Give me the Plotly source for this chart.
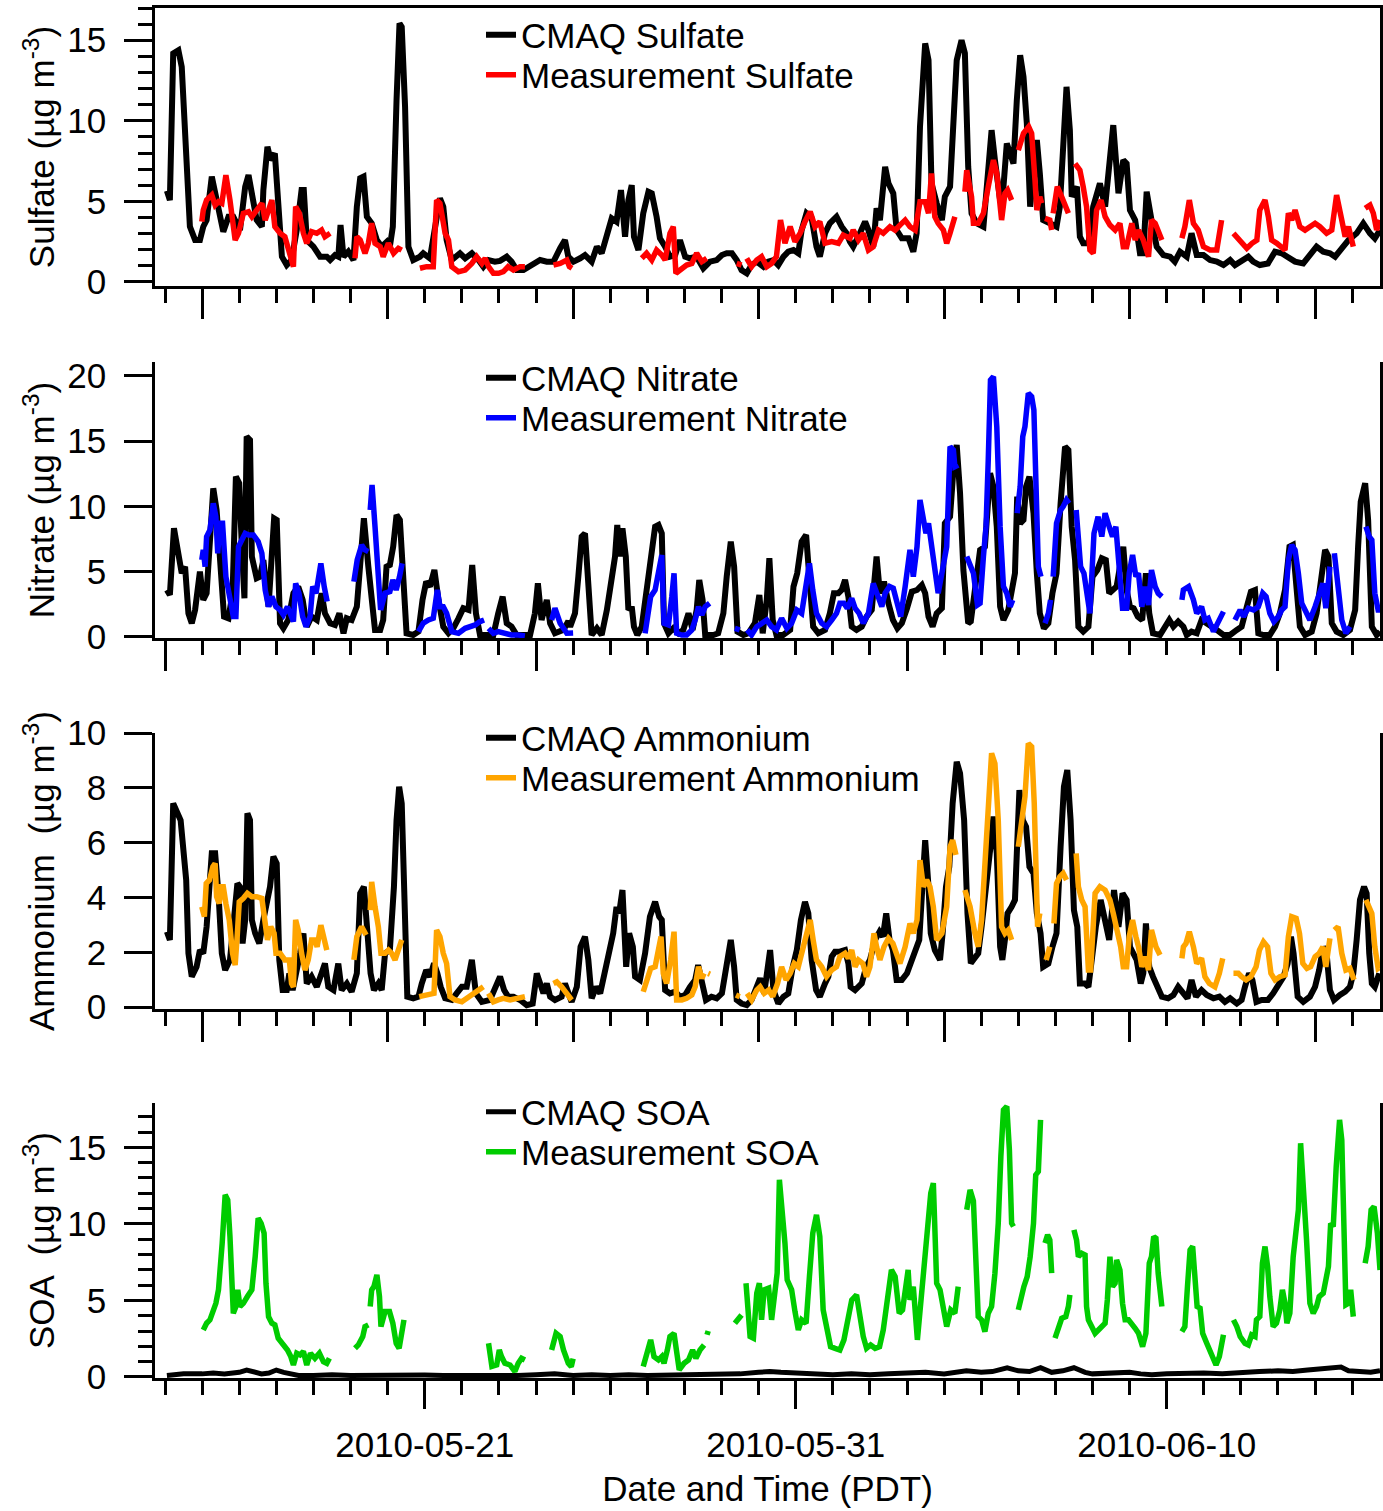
import plotly.graph_objects as go
import pandas as pd

# ---------------- data (time = days after 2010-05-14 00:00 PDT; None = gap) ----------------
SULF_CMAQ = [(0.05,5.66),(0.13,5.08),(0.22,14.18),(0.36,14.38),(0.45,13.35),(0.58,8.18),(0.67,3.43),(0.81,2.6),(0.94,2.6),(1.03,3.43),(1.12,3.84),(1.26,6.53),(1.39,5.08),(1.57,3.12),(1.71,4.05),(1.84,4.05),(2.02,3.22),(2.16,5.91),(2.25,6.63),(2.38,4.67),(2.47,3.84),(2.61,3.43),(2.65,5.7),(2.76,8.39),(2.85,7.56),(2.96,7.98),(3.05,4.67),(3.15,1.57),(3.28,1.05),(3.41,1.36),(3.55,3.22),(3.68,5.7),(3.74,5.7),(3.82,2.6),(4.0,2.19),(4.18,1.57),(4.36,1.57),(4.45,1.36),(4.58,1.67),(4.67,1.57),(4.73,3.53),(4.81,1.57),(4.94,1.88),(5.08,1.36),(5.17,4.67),(5.26,6.43),(5.35,6.53),(5.44,4.05),(5.57,3.64),(5.71,2.6),(5.84,2.19),(5.98,2.5),(6.06,2.19),(6.14,3.43),(6.24,11.28),(6.32,16.04),(6.38,15.83),(6.47,10.87),(6.56,2.19),(6.69,1.36),(6.87,1.57),(6.96,1.78),(7.14,1.47),(7.28,3.22),(7.41,5.19),(7.5,4.67),(7.59,2.6),(7.73,1.36),(7.86,1.57),(7.95,1.78),(8.09,1.47),(8.27,1.78),(8.45,1.36),(8.58,0.95),(8.72,1.36),(8.89,1.26),(9.03,1.31),(9.21,1.57),(9.34,1.26),(9.48,0.74),(9.66,0.74),(9.84,0.95),(10.02,1.26),(10.11,1.36),(10.29,1.26),(10.47,1.26),(10.65,2.09),(10.78,2.6),(10.87,1.57),(11.01,1.26),(11.19,1.47),(11.32,1.67),(11.5,1.26),(11.64,2.19),(11.77,1.78),(11.91,3.02),(12.04,3.95),(12.17,3.74),(12.29,5.7),(12.4,2.81),(12.49,5.08),(12.58,6.01),(12.64,2.81),(12.76,1.98),(12.89,4.26),(13.03,5.6),(13.12,5.5),(13.25,4.05),(13.34,2.71),(13.48,2.19),(13.61,1.57),(13.75,1.67),(13.88,2.6),(14.02,1.57),(14.15,1.47),(14.33,1.57),(14.51,0.85),(14.69,1.26),(14.87,1.36),(15.01,1.67),(15.14,1.78),(15.28,1.78),(15.41,1.36),(15.54,0.74),(15.68,0.54),(15.81,1.05),(15.95,1.26),(16.13,0.95),(16.26,1.26),(16.4,1.36),(16.53,1.05),(16.67,1.57),(16.8,1.88),(16.94,1.98),(17.07,1.78),(17.16,3.22),(17.29,4.26),(17.43,3.95),(17.56,2.19),(17.65,1.57),(17.79,3.02),(17.92,3.64),(18.1,4.05),(18.24,3.43),(18.37,3.02),(18.46,2.5),(18.55,2.19),(18.73,3.02),(18.87,3.74),(18.96,3.22),(19.09,2.19),(19.18,4.57),(19.27,3.84),(19.41,7.15),(19.5,6.12),(19.63,5.5),(19.72,3.22),(19.86,2.71),(20.04,2.71),(20.17,1.88),(20.26,3.02),(20.35,9.63),(20.49,14.8),(20.58,13.77),(20.66,6.12),(20.8,4.88),(20.94,3.84),(21.02,5.29),(21.16,5.91),(21.34,13.76),(21.47,15.0),(21.56,14.2),(21.65,7.15),(21.74,4.26),(21.88,3.64),(22.06,3.43),(22.15,5.91),(22.28,9.42),(22.37,7.56),(22.51,5.08),(22.6,5.91),(22.69,8.6),(22.78,7.98),(22.87,7.35),(22.96,11.28),(23.05,14.07),(23.14,12.73),(23.23,9.84),(23.32,4.67),(23.41,7.15),(23.5,8.81),(23.58,6.74),(23.67,3.84),(23.85,3.64),(24.03,3.43),(24.12,4.67),(24.21,9.22),(24.3,12.11),(24.39,9.42),(24.44,5.29),(24.58,5.91),(24.66,2.81),(24.75,2.4),(24.89,2.4),(25.02,4.67),(25.2,6.12),(25.34,4.67),(25.43,7.15),(25.56,9.73),(25.7,5.5),(25.83,7.56),(25.92,7.35),(26.01,4.46),(26.15,3.84),(26.28,1.78),(26.37,1.78),(26.46,5.6),(26.59,3.84),(26.73,2.19),(26.91,1.67),(27.09,1.57),(27.22,1.26),(27.36,1.88),(27.54,1.57),(27.67,3.02),(27.81,1.67),(27.99,1.67),(28.17,1.36),(28.35,1.26),(28.53,1.05),(28.71,1.36),(28.84,1.05),(29.02,1.36),(29.2,1.57),(29.33,1.26),(29.51,1.05),(29.73,1.15),(29.92,1.88),(30.1,1.78),(30.28,1.57),(30.46,1.26),(30.68,1.15),(30.86,1.67),(31.04,2.19),(31.22,1.88),(31.4,1.78),(31.54,1.57),(31.72,2.09),(31.9,2.6),(32.12,3.02),(32.3,3.64),(32.48,3.02),(32.61,2.71),(32.75,3.22)]

SULF_MEAS = [(0.99,3.74),(1.03,4.46),(1.12,5.08),(1.26,5.39),(1.35,4.77),(1.44,4.98),(1.53,4.88),(1.64,6.63),(1.75,5.08),(1.89,2.6),(1.98,3.02),(2.11,4.26),(2.25,4.36),(2.34,4.05),(2.47,4.46),(2.61,4.88),(2.7,3.84),(2.79,4.46),(2.88,5.08),(2.96,3.43),(3.1,3.02),(3.23,2.81),(3.37,1.78),(3.46,0.95),(3.52,4.67),(3.62,4.26),(3.73,3.02),(3.82,2.4),(3.95,3.12),(4.09,3.02),(4.22,3.22),(4.31,2.81),(4.45,3.02),(4.8,None),
(5.12,1.47),(5.17,2.81),(5.26,2.6),(5.39,1.78),(5.48,2.4),(5.57,3.64),(5.66,2.4),(5.8,2.19),(5.88,1.57),(6.02,2.4),(6.16,1.78),(6.29,2.09),(6.38,1.98),(6.6,None),
(6.87,0.85),(7.05,0.95),(7.23,0.95),(7.32,5.08),(7.41,4.88),(7.55,3.02),(7.64,2.6),(7.73,0.95),(7.91,0.64),(8.09,0.74),(8.27,1.15),(8.4,1.57),(8.54,1.15),(8.63,1.47),(8.72,0.95),(8.85,0.54),(8.99,0.54),(9.12,0.64),(9.25,0.95),(9.39,0.74),(9.57,0.95),(9.7,0.95),(10.0,None),
(10.47,1.05),(10.65,1.15),(10.83,1.36),(10.9,0.95),(10.97,0.85),(11.5,None),
(12.85,1.47),(12.98,1.78),(13.12,1.36),(13.25,1.98),(13.39,1.67),(13.48,1.36),(13.61,3.02),(13.7,3.43),(13.77,0.54),(13.93,0.85),(14.06,1.05),(14.2,1.15),(14.33,1.78),(14.47,1.26),(14.6,1.47),(15.0,None),
(15.41,1.15),(15.54,1.05),(15.6,None),
(15.68,1.47),(15.81,0.95),(15.95,1.36),(16.08,1.57),(16.22,0.95),(16.35,1.15),(16.48,1.57),(16.59,3.84),(16.71,2.4),(16.85,3.43),(16.98,2.5),(17.12,3.02),(17.25,3.74),(17.39,4.36),(17.52,3.43),(17.65,3.74),(17.79,2.4),(17.97,2.5),(18.15,2.4),(18.28,2.91),(18.46,2.71),(18.55,3.22),(18.69,2.6),(18.82,3.02),(18.96,1.98),(19.09,2.19),(19.23,3.22),(19.36,3.02),(19.54,3.43),(19.68,3.22),(19.81,3.53),(19.95,3.84),(20.08,3.43),(20.22,3.22),(20.35,4.98),(20.49,4.98),(20.58,4.26),(20.66,6.74),(20.75,4.05),(20.84,3.64),(20.98,3.22),(21.07,2.4),(21.16,3.02),(21.29,4.05),(21.4,None),
(21.56,5.6),(21.61,6.94),(21.74,5.29),(21.79,3.64),(21.92,3.64),(22.06,4.26),(22.19,5.91),(22.33,7.56),(22.42,6.74),(22.55,3.84),(22.64,5.5),(22.71,5.7),(22.82,5.08),(22.9,None),
(23.0,8.18),(23.14,9.22),(23.28,9.63),(23.36,9.22),(23.45,6.32),(23.5,4.46),(23.58,5.29),(23.63,4.88),(23.68,None),
(23.72,3.95),(23.85,3.84),(23.9,3.22),(23.92,None),
(23.94,4.26),(24.05,5.91),(24.17,5.29),(24.3,4.46),(24.35,4.26),(24.45,None),
(24.53,7.35),(24.66,6.94),(24.75,5.91),(24.84,4.67),(24.93,1.98),(25.02,1.78),(25.11,4.46),(25.23,5.08),(25.34,4.05),(25.47,3.53),(25.61,3.22),(25.74,3.64),(25.83,2.19),(25.92,2.19),(26.06,3.64),(26.15,2.6),(26.24,3.22),(26.37,2.6),(26.51,1.57),(26.59,3.84),(26.69,3.64),(26.87,2.6),(27.1,None),
(27.41,2.71),(27.49,3.43),(27.61,5.08),(27.72,3.64),(27.85,3.22),(27.99,2.19),(28.17,1.98),(28.35,1.98),(28.48,3.84),(28.6,None),
(28.8,3.02),(28.98,2.6),(29.16,2.09),(29.3,2.4),(29.43,2.6),(29.51,4.46),(29.65,5.08),(29.74,4.05),(29.83,2.6),(29.97,2.4),(30.1,2.09),(30.19,1.98),(30.28,4.26),(30.37,3.84),(30.46,4.46),(30.59,3.43),(30.73,3.22),(30.86,3.43),(31.0,3.64),(31.13,3.43),(31.31,3.02),(31.45,3.22),(31.58,5.39),(31.72,3.84),(31.81,2.81),(31.9,3.43),(32.03,2.19),(32.2,None),
(32.35,4.57),(32.48,4.77),(32.57,4.26),(32.66,3.22),(32.75,3.84)]

NIT_CMAQ = [(0.05,3.6),(0.13,3.22),(0.24,8.33),(0.36,6.41),(0.45,4.88),(0.54,5.39),(0.63,1.81),(0.72,1.05),(0.81,2.07),(0.94,5.0),(1.03,2.84),(1.12,3.35),(1.21,8.45),(1.3,11.39),(1.39,9.73),(1.48,5.39),(1.59,1.56),(1.71,1.43),(1.82,3.35),(1.91,12.29),(2.0,11.78),(2.07,6.92),(2.14,2.96),(2.2,15.35),(2.29,15.1),(2.34,6.16),(2.47,4.5),(2.56,4.62),(2.65,5.9),(2.79,2.32),(2.88,6.92),(2.94,9.09),(3.01,8.97),(3.1,1.05),(3.19,0.66),(3.32,1.3),(3.46,3.35),(3.59,3.86),(3.71,2.84),(3.82,0.79),(3.95,1.56),(4.09,1.3),(4.22,3.35),(4.31,1.81),(4.45,1.05),(4.58,0.92),(4.7,1.81),(4.81,0.28),(4.9,1.43),(5.03,1.3),(5.17,2.32),(5.28,6.92),(5.36,9.09),(5.48,5.39),(5.57,2.84),(5.66,0.54),(5.8,0.54),(5.88,1.3),(5.97,5.39),(6.06,5.52),(6.15,6.92),(6.24,9.35),(6.33,8.97),(6.41,4.62),(6.51,0.28),(6.69,0.15),(6.83,0.41),(6.94,2.84),(7.04,4.24),(7.14,3.86),(7.26,5.13),(7.37,2.84),(7.5,0.79),(7.64,0.28),(7.77,0.66),(7.91,1.43),(8.04,2.2),(8.18,2.07),(8.28,5.52),(8.38,1.81),(8.49,0.15),(8.67,0.15),(8.85,0.15),(8.98,1.81),(9.1,3.09),(9.21,1.05),(9.34,0.79),(9.48,0.15),(9.66,0.15),(9.84,0.15),(9.97,1.81),(10.05,4.11),(10.15,1.3),(10.29,2.84),(10.38,1.05),(10.51,0.28),(10.74,0.54),(10.87,1.2),(10.92,0.79),(11.05,1.81),(11.14,4.62),(11.23,7.69),(11.32,7.94),(11.41,3.35),(11.5,0.15),(11.64,0.66),(11.77,0.15),(11.91,2.07),(12.04,4.88),(12.13,6.16),(12.19,8.58),(12.26,6.16),(12.33,8.33),(12.42,6.16),(12.49,2.07),(12.58,2.32),(12.64,0.79),(12.73,0.15),(12.85,0.79),(12.98,3.35),(13.12,6.41),(13.21,8.45),(13.3,8.58),(13.39,7.94),(13.45,1.05),(13.57,0.28),(13.7,0.66),(13.84,0.28),(13.97,0.54),(14.11,1.81),(14.22,0.54),(14.33,2.07),(14.4,4.37),(14.49,2.84),(14.56,0.15),(14.78,0.15),(14.91,0.28),(15.05,1.81),(15.14,4.62),(15.25,7.31),(15.34,5.39),(15.43,0.41),(15.59,0.15),(15.72,0.28),(15.9,1.05),(16.02,3.22),(16.11,0.28),(16.22,2.84),(16.29,6.03),(16.38,1.3),(16.48,0.15),(16.66,0.15),(16.85,0.54),(16.94,3.86),(17.04,4.88),(17.16,7.31),(17.28,7.82),(17.37,4.88),(17.47,0.79),(17.61,0.28),(17.79,0.54),(17.92,1.81),(18.03,3.35),(18.15,3.35),(18.24,3.6),(18.33,4.37),(18.42,3.09),(18.51,0.79),(18.64,0.54),(18.78,0.79),(18.91,1.56),(19.05,2.07),(19.18,6.16),(19.27,3.35),(19.38,4.24),(19.5,2.58),(19.62,1.3),(19.74,0.66),(19.86,1.05),(20.0,2.2),(20.13,3.47),(20.27,3.6),(20.4,3.98),(20.49,3.35),(20.58,1.56),(20.69,0.79),(20.8,1.81),(20.94,2.2),(21.02,8.71),(21.16,9.22),(21.25,12.8),(21.34,14.71),(21.43,11.01),(21.52,5.13),(21.65,1.05),(21.72,1.2),(21.83,3.35),(21.97,6.67),(22.1,6.92),(22.24,12.54),(22.33,11.52),(22.42,8.45),(22.51,2.32),(22.6,1.3),(22.73,2.07),(22.82,3.86),(22.91,4.88),(22.97,10.75),(23.05,8.71),(23.14,8.97),(23.21,11.52),(23.3,12.29),(23.41,9.48),(23.5,4.88),(23.58,1.81),(23.69,0.66),(23.81,1.05),(23.92,3.35),(24.03,4.88),(24.14,10.24),(24.26,14.58),(24.35,14.33),(24.44,8.45),(24.53,5.9),(24.62,0.79),(24.75,0.41),(24.89,0.79),(25.0,4.62),(25.13,5.13),(25.25,6.03),(25.36,5.9),(25.45,3.35),(25.56,3.6),(25.65,3.86),(25.74,5.39),(25.83,6.92),(25.92,3.6),(26.01,2.32),(26.11,2.2),(26.22,1.56),(26.34,1.3),(26.44,4.88),(26.53,1.81),(26.63,0.28),(26.82,0.15),(26.95,0.79),(27.07,1.3),(27.18,0.79),(27.31,1.18),(27.45,0.79),(27.54,0.15),(27.67,0.41),(27.81,0.28),(27.94,1.3),(28.08,1.05),(28.21,0.92),(28.35,0.54),(28.53,0.15),(28.71,0.15),(28.89,0.54),(29.02,0.79),(29.16,2.32),(29.27,3.47),(29.38,3.6),(29.47,0.28),(29.6,0.15),(29.78,0.15),(29.92,0.79),(30.05,1.81),(30.19,3.6),(30.31,6.92),(30.4,7.05),(30.5,3.6),(30.59,0.79),(30.73,0.15),(30.91,0.41),(31.04,1.81),(31.15,3.86),(31.27,6.67),(31.36,6.16),(31.45,1.05),(31.58,0.41),(31.76,0.15),(31.94,0.54),(32.08,2.07),(32.16,6.92),(32.23,10.37),(32.35,11.78),(32.43,8.97),(32.53,0.79),(32.66,0.15),(32.75,0.41)]

NIT_MEAS = [(0.99,5.9),(1.03,6.67),(1.08,5.39),(1.12,7.69),(1.21,8.2),(1.3,10.24),(1.37,9.22),(1.42,6.41),(1.48,8.71),(1.55,8.71),(1.64,4.62),(1.75,2.84),(1.84,1.56),(1.91,1.56),(1.98,6.92),(2.07,7.43),(2.16,7.94),(2.25,7.82),(2.38,7.82),(2.51,7.31),(2.61,6.41),(2.7,3.6),(2.79,2.32),(2.88,3.09),(2.99,2.32),(3.1,2.07),(3.19,1.69),(3.3,2.32),(3.39,1.81),(3.46,1.18),(3.52,4.11),(3.61,3.35),(3.71,1.56),(3.8,0.79),(3.91,1.56),(3.98,3.86),(4.07,3.35),(4.13,4.62),(4.2,5.64),(4.29,3.86),(4.37,2.71),(4.7,None),
(5.09,4.24),(5.18,5.9),(5.3,7.05),(5.39,6.67),(5.48,6.54),(5.5,None),
(5.53,9.73),(5.58,11.65),(5.66,8.45),(5.75,4.88),(5.81,2.07),(5.93,3.35),(6.06,3.47),(6.14,4.37),(6.23,3.6),(6.32,4.62),(6.39,5.64),(6.6,None),
(6.83,0.41),(6.96,1.05),(7.1,1.3),(7.23,1.43),(7.34,3.6),(7.41,2.32),(7.5,2.32),(7.59,1.81),(7.73,0.41),(7.91,0.28),(8.09,0.66),(8.22,0.79),(8.36,0.92),(8.49,1.18),(8.6,1.3),(8.66,None),
(8.72,0.66),(8.85,0.28),(8.98,0.41),(9.16,0.28),(9.34,0.15),(9.52,0.15),(9.7,0.08),(10.0,None),
(10.42,1.3),(10.51,2.2),(10.65,1.05),(10.83,0.28),(11.0,0.3),(11.5,None),
(12.94,0.28),(13.03,1.81),(13.09,3.09),(13.21,3.6),(13.3,4.88),(13.39,6.28),(13.45,1.05),(13.57,0.92),(13.66,3.09),(13.72,4.88),(13.79,0.28),(13.93,0.15),(14.06,0.15),(14.2,0.54),(14.29,1.3),(14.38,2.32),(14.47,1.69),(14.56,2.32),(14.68,2.58),(15.0,None),
(15.36,0.66),(15.49,0.54),(15.6,None),
(15.69,0.54),(15.81,0.15),(15.95,0.79),(16.08,1.05),(16.22,1.3),(16.35,0.79),(16.48,0.54),(16.62,1.43),(16.76,0.66),(16.89,1.05),(17.03,2.07),(17.16,1.81),(17.28,4.24),(17.37,5.64),(17.46,3.6),(17.56,1.81),(17.7,1.05),(17.83,0.79),(17.97,1.3),(18.1,1.81),(18.19,2.58),(18.3,2.58),(18.39,2.2),(18.51,2.96),(18.6,2.2),(18.71,1.81),(18.82,1.05),(18.96,1.81),(19.09,4.11),(19.23,2.84),(19.32,2.32),(19.41,3.35),(19.53,3.86),(19.63,3.73),(19.74,2.32),(19.83,1.56),(19.95,3.86),(20.08,6.67),(20.17,4.62),(20.27,6.92),(20.35,10.5),(20.44,8.97),(20.51,7.94),(20.58,8.71),(20.66,6.92),(20.75,4.62),(20.84,3.35),(20.94,4.88),(21.07,6.92),(21.16,14.58),(21.25,14.33),(21.29,13.05),(21.38,13.18),(21.5,None),
(21.61,6.16),(21.79,4.88),(21.9,2.45),(21.97,2.58),(22.06,6.16),(22.13,8.45),(22.19,13.56),(22.25,19.69),(22.33,19.95),(22.42,16.12),(22.51,8.45),(22.6,3.86),(22.69,3.35),(22.78,2.32),(22.85,2.84),(22.9,None),
(22.97,9.48),(23.05,11.52),(23.12,15.35),(23.18,16.12),(23.27,18.67),(23.36,18.42),(23.42,17.39),(23.47,11.0),(23.54,5.39),(23.61,4.62),(23.66,None),
(23.72,1.05),(23.81,1.81),(23.87,2.84),(23.9,None),
(23.94,4.62),(24.03,8.71),(24.14,9.73),(24.21,9.99),(24.3,10.5),(24.37,10.24),(24.45,None),
(24.56,9.73),(24.62,7.43),(24.68,5.39),(24.77,4.88),(24.84,3.35),(24.93,1.81),(25.04,7.94),(25.15,9.22),(25.25,7.69),(25.34,9.48),(25.45,8.45),(25.54,7.69),(25.63,8.45),(25.72,5.39),(25.81,2.2),(25.92,2.2),(25.99,4.88),(26.08,6.28),(26.17,4.62),(26.24,4.88),(26.33,2.32),(26.42,3.86),(26.51,2.45),(26.59,5.13),(26.69,3.86),(26.77,3.35),(26.87,3.09),(27.1,None),
(27.41,2.84),(27.45,3.6),(27.59,3.86),(27.72,2.84),(27.81,1.81),(27.94,2.32),(28.03,1.3),(28.12,1.43),(28.26,0.41),(28.39,1.05),(28.53,1.94),(28.7,None),
(28.84,1.3),(28.98,2.07),(29.07,1.56),(29.2,2.2),(29.34,2.07),(29.47,2.32),(29.59,3.35),(29.68,3.09),(29.78,1.81),(29.89,1.18),(30.01,1.56),(30.1,2.07),(30.19,2.32),(30.28,5.9),(30.37,7.05),(30.46,6.67),(30.55,4.88),(30.64,2.58),(30.73,2.07),(30.86,1.3),(31.0,2.32),(31.09,3.09),(31.21,4.11),(31.29,2.2),(31.4,5.39),(31.46,None),
(31.52,6.41),(31.62,3.35),(31.72,1.3),(31.83,0.28),(31.94,0.79),(32.1,None),
(32.37,8.45),(32.46,7.69),(32.53,7.43),(32.61,3.35),(32.7,2.07),(32.77,2.07)]

AMM_CMAQ = [(0.05,2.75),(0.13,2.45),(0.22,7.43),(0.31,7.19),(0.42,6.82),(0.57,4.64),(0.63,1.96),(0.72,1.11),(0.85,1.47),(0.94,2.08),(1.03,1.96),(1.12,2.93),(1.26,5.61),(1.35,5.61),(1.44,4.15),(1.53,1.96),(1.62,1.35),(1.75,1.72),(1.89,3.66),(1.95,4.51),(2.02,4.39),(2.09,2.32),(2.16,3.18),(2.22,7.07),(2.29,6.82),(2.34,3.18),(2.43,2.69),(2.54,2.32),(2.65,3.18),(2.74,3.78),(2.83,4.39),(2.92,5.49),(3.01,5.24),(3.08,1.72),(3.17,0.62),(3.28,0.62),(3.35,1.23),(3.44,0.62),(3.55,1.23),(3.64,1.96),(3.73,2.69),(3.82,0.86),(3.95,1.11),(4.09,0.74),(4.22,1.23),(4.31,1.59),(4.4,0.74),(4.54,0.62),(4.67,1.59),(4.76,0.62),(4.9,0.86),(5.03,0.56),(5.17,1.23),(5.26,4.15),(5.36,4.39),(5.45,2.81),(5.54,1.23),(5.63,0.62),(5.75,0.86),(5.84,0.62),(5.93,1.96),(6.06,2.08),(6.17,4.39),(6.24,6.82),(6.31,8.04),(6.38,7.43),(6.47,3.18),(6.53,0.38),(6.69,0.32),(6.83,0.38),(6.92,0.86),(7.04,1.35),(7.14,1.11),(7.25,1.59),(7.34,1.23),(7.43,0.74),(7.55,0.32),(7.73,0.26),(7.86,0.5),(8.0,0.74),(8.13,0.74),(8.27,1.72),(8.38,0.5),(8.54,0.19),(8.76,0.26),(8.89,0.74),(9.03,1.11),(9.14,0.62),(9.25,0.38),(9.39,0.38),(9.57,0.26),(9.75,0.07),(9.91,0.13),(10.02,1.23),(10.11,0.86),(10.2,0.5),(10.29,0.86),(10.38,0.38),(10.51,0.26),(10.69,0.38),(10.78,0.86),(10.87,0.5),(10.96,0.19),(11.1,0.74),(11.2,2.2),(11.32,2.57),(11.41,1.72),(11.5,0.32),(11.62,0.74),(11.73,0.5),(11.86,1.23),(12.0,2.2),(12.08,2.69),(12.17,3.66),(12.24,3.42),(12.33,4.27),(12.43,1.47),(12.51,2.69),(12.61,2.2),(12.67,1.11),(12.8,0.99),(12.94,1.96),(13.07,3.3),(13.21,3.84),(13.32,3.3),(13.39,3.18),(13.48,0.62),(13.61,0.5),(13.75,0.56),(13.88,0.38),(14.02,0.44),(14.15,0.74),(14.29,0.99),(14.37,1.53),(14.47,0.86),(14.58,0.26),(14.73,0.38),(14.87,0.32),(15.01,0.5),(15.12,1.47),(15.25,2.45),(15.34,1.47),(15.41,0.26),(15.54,0.13),(15.68,0.07),(15.81,0.26),(15.93,0.62),(16.04,1.05),(16.15,0.5),(16.24,1.35),(16.31,2.08),(16.4,0.62),(16.53,0.13),(16.67,0.38),(16.8,0.5),(16.92,1.47),(17.03,2.08),(17.14,3.18),(17.25,3.84),(17.34,3.42),(17.43,1.72),(17.55,0.62),(17.65,0.38),(17.79,0.86),(17.88,1.11),(17.97,1.84),(18.06,2.02),(18.19,2.02),(18.33,2.08),(18.42,1.59),(18.48,0.74),(18.6,0.62),(18.69,0.74),(18.78,0.86),(18.9,1.47),(19.0,1.72),(19.14,2.45),(19.26,2.75),(19.35,2.57),(19.44,3.42),(19.53,2.45),(19.62,2.08),(19.72,0.99),(19.86,0.99),(20.0,1.23),(20.1,1.59),(20.22,1.96),(20.33,2.45),(20.43,4.76),(20.49,6.09),(20.58,4.39),(20.64,2.69),(20.75,2.08),(20.89,1.72),(20.96,2.69),(21.05,4.39),(21.14,5.12),(21.23,7.43),(21.34,8.95),(21.43,8.53),(21.54,6.82),(21.63,3.42),(21.72,1.6),(21.83,1.84),(21.92,1.96),(22.01,2.93),(22.15,4.39),(22.25,5.85),(22.33,6.95),(22.42,5.61),(22.51,2.2),(22.57,1.72),(22.65,2.57),(22.71,3.42),(22.82,3.66),(22.91,3.91),(22.96,5.61),(23.03,7.92),(23.12,6.82),(23.21,6.58),(23.3,5.12),(23.41,4.88),(23.5,3.42),(23.6,2.69),(23.67,1.47),(23.81,1.59),(23.92,2.2),(24.03,2.69),(24.14,5.85),(24.23,8.04),(24.32,8.65),(24.41,6.82),(24.5,3.54),(24.59,2.93),(24.66,0.86),(24.8,0.86),(24.89,0.74),(24.98,1.96),(25.09,2.93),(25.22,3.91),(25.34,3.18),(25.45,2.45),(25.58,4.27),(25.7,2.93),(25.81,4.15),(25.92,3.91),(26.01,2.2),(26.1,1.96),(26.19,1.72),(26.3,0.86),(26.37,1.23),(26.44,3.05),(26.53,1.47),(26.63,1.11),(26.73,0.74),(26.87,0.38),(27.04,0.32),(27.18,0.44),(27.31,0.74),(27.45,0.5),(27.56,0.32),(27.67,0.99),(27.79,0.38),(27.94,0.62),(28.08,0.44),(28.26,0.32),(28.42,0.38),(28.57,0.19),(28.71,0.32),(28.89,0.13),(29.02,0.26),(29.11,0.74),(29.22,1.23),(29.31,0.99),(29.42,0.19),(29.56,0.26),(29.73,0.26),(29.87,0.5),(30.01,0.86),(30.15,1.11),(30.26,1.59),(30.35,2.57),(30.42,1.96),(30.53,0.38),(30.68,0.19),(30.86,0.38),(31.0,0.74),(31.11,1.35),(31.22,2.2),(31.31,1.96),(31.4,0.62),(31.51,0.26),(31.67,0.44),(31.81,0.56),(31.94,0.74),(32.03,1.23),(32.12,2.45),(32.21,3.91),(32.32,4.39),(32.39,4.15),(32.46,1.96),(32.53,0.86),(32.61,0.74),(32.73,1.23)]

AMM_MEAS = [(0.99,3.66),(1.06,3.3),(1.11,4.51),(1.2,4.64),(1.29,5.12),(1.35,5.24),(1.39,4.03),(1.46,3.78),(1.51,4.39),(1.57,4.39),(1.64,3.78),(1.73,3.18),(1.82,1.96),(1.89,1.53),(1.95,2.69),(2.0,3.84),(2.11,3.97),(2.22,4.15),(2.34,4.03),(2.47,4.03),(2.61,3.97),(2.7,3.18),(2.76,2.45),(2.85,2.93),(2.94,2.69),(2.99,1.96),(3.1,1.96),(3.23,1.72),(3.35,1.72),(3.41,0.86),(3.46,0.74),(3.52,3.18),(3.59,2.81),(3.68,1.96),(3.77,1.35),(3.86,1.72),(3.95,2.45),(4.04,2.45),(4.1,2.2),(4.2,2.99),(4.27,2.57),(4.36,2.08),(4.7,None),
(5.09,1.72),(5.17,2.57),(5.3,2.93),(5.42,2.63),(5.48,None),
(5.53,3.54),(5.57,4.57),(5.66,3.66),(5.75,2.93),(5.82,1.96),(5.93,1.96),(6.02,2.08),(6.11,1.96),(6.2,1.72),(6.29,2.08),(6.38,2.45),(6.6,None),
(6.85,0.38),(7.01,0.44),(7.14,0.44),(7.25,0.5),(7.32,2.81),(7.41,2.57),(7.5,1.96),(7.59,1.59),(7.68,0.38),(7.82,0.26),(8.0,0.19),(8.18,0.38),(8.31,0.5),(8.45,0.62),(8.58,0.74),(8.65,None),
(8.72,0.5),(8.85,0.19),(8.98,0.26),(9.12,0.32),(9.3,0.26),(9.48,0.32),(9.7,0.38),(10.0,None),
(10.47,0.86),(10.56,0.92),(10.69,0.74),(10.83,0.5),(10.96,0.26),(11.5,None),
(12.89,0.56),(13.0,1.11),(13.09,1.41),(13.21,1.47),(13.3,2.08),(13.37,2.57),(13.43,1.23),(13.52,0.86),(13.63,1.72),(13.72,2.75),(13.79,0.26),(13.93,0.26),(14.06,0.32),(14.2,0.44),(14.29,0.74),(14.38,1.47),(14.47,1.05),(14.53,1.23),(14.6,None),
(14.64,1.23),(14.69,1.2),(14.8,None),
(15.39,0.44),(15.49,0.38),(15.6,None),
(15.69,0.5),(15.81,0.26),(15.95,0.62),(16.04,0.74),(16.15,0.5),(16.27,0.62),(16.38,0.38),(16.51,0.86),(16.62,1.47),(16.74,0.99),(16.85,1.23),(16.96,1.59),(17.07,1.47),(17.16,1.96),(17.28,2.57),(17.39,3.18),(17.47,2.45),(17.56,1.72),(17.7,1.47),(17.83,1.11),(17.97,1.35),(18.1,1.47),(18.19,1.84),(18.33,1.96),(18.42,1.78),(18.51,2.08),(18.6,1.47),(18.69,1.72),(18.81,1.59),(18.91,1.11),(19.0,1.47),(19.11,2.69),(19.18,2.2),(19.27,1.72),(19.38,2.2),(19.5,2.51),(19.62,2.32),(19.72,1.96),(19.81,1.59),(19.95,2.2),(20.08,3.05),(20.17,2.69),(20.27,3.18),(20.35,5.36),(20.44,4.39),(20.53,4.64),(20.62,4.39),(20.71,3.66),(20.8,2.45),(20.94,2.69),(21.07,3.66),(21.16,5.85),(21.23,6.09),(21.32,5.55),(21.45,None),
(21.56,4.27),(21.7,3.66),(21.83,2.69),(21.92,2.2),(22.01,3.18),(22.1,5.0),(22.19,7.43),(22.28,9.26),(22.37,8.89),(22.46,6.82),(22.55,2.93),(22.64,2.69),(22.73,2.81),(22.82,2.45),(22.9,None),
(23.0,5.85),(23.09,6.82),(23.18,7.68),(23.27,9.62),(23.36,9.5),(23.43,7.43),(23.47,4.39),(23.52,2.93),(23.58,3.42),(23.67,None),
(23.75,1.72),(23.85,2.2),(23.9,None),
(23.96,3.05),(24.03,4.51),(24.12,4.76),(24.21,4.88),(24.3,4.64),(24.45,None),
(24.56,5.61),(24.62,4.39),(24.71,3.91),(24.8,3.66),(24.89,1.35),(24.95,1.35),(25.07,4.15),(25.2,4.39),(25.34,4.27),(25.47,3.91),(25.56,3.42),(25.65,2.81),(25.76,2.2),(25.83,1.47),(25.92,1.47),(25.99,2.57),(26.08,3.18),(26.17,2.57),(26.24,2.2),(26.33,1.47),(26.42,1.84),(26.51,1.35),(26.59,2.81),(26.71,2.2),(26.82,1.9),(27.1,None),
(27.41,1.78),(27.45,2.2),(27.52,2.32),(27.61,2.75),(27.72,2.2),(27.81,1.59),(27.94,1.78),(28.03,1.11),(28.15,0.86),(28.3,0.74),(28.42,1.23),(28.51,1.78),(28.65,None),
(28.8,1.23),(28.93,1.23),(29.02,1.11),(29.14,0.99),(29.27,1.11),(29.41,1.47),(29.5,2.08),(29.61,2.38),(29.72,2.2),(29.81,1.23),(29.92,0.99),(30.05,1.11),(30.19,1.17),(30.28,2.57),(30.37,3.3),(30.49,3.24),(30.58,2.69),(30.67,1.59),(30.78,1.41),(30.88,1.47),(31.0,1.84),(31.11,1.96),(31.21,2.2),(31.29,1.47),(31.4,2.51),(31.46,None),
(31.52,2.81),(31.62,2.93),(31.72,1.96),(31.83,1.35),(31.94,1.41),(32.05,0.99),(32.2,None),
(32.37,3.91),(32.46,3.66),(32.53,3.42),(32.61,2.2),(32.7,1.41),(32.77,1.47)]

SOA_CMAQ = [(0.05,0.1),(0.5,0.2),(1.0,0.2),(1.3,0.25),(1.6,0.2),(2.0,0.3),(2.2,0.45),(2.4,0.3),(2.6,0.2),(2.8,0.25),(3.0,0.45),(3.2,0.3),(3.4,0.2),(3.6,0.1),(4.0,0.1),(4.5,0.15),(5.0,0.1),(5.5,0.12),(6.0,0.1),(6.5,0.15),(7.0,0.12),(7.5,0.1),(8.0,0.08),(8.5,0.1),(9.0,0.12),(9.5,0.1),(10.0,0.15),(10.5,0.2),(11.0,0.1),(11.5,0.15),(12.0,0.1),(12.5,0.15),(13.0,0.1),(13.5,0.12),(14.0,0.08),(14.5,0.1),(15.0,0.12),(15.5,0.2),(16.0,0.3),(16.3,0.35),(16.6,0.3),(17.0,0.25),(17.3,0.2),(17.6,0.2),(18.0,0.15),(18.5,0.2),(19.0,0.15),(19.5,0.2),(20.0,0.25),(20.5,0.3),(21.0,0.2),(21.3,0.3),(21.6,0.4),(22.0,0.3),(22.3,0.35),(22.7,0.6),(23.0,0.4),(23.3,0.35),(23.6,0.6),(23.9,0.3),(24.2,0.4),(24.5,0.6),(24.8,0.3),(25.0,0.2),(25.5,0.25),(26.0,0.3),(26.3,0.2),(26.6,0.15),(27.0,0.2),(27.5,0.25),(28.0,0.25),(28.5,0.2),(29.0,0.3),(29.5,0.35),(30.0,0.4),(30.4,0.35),(30.8,0.45),(31.1,0.5),(31.5,0.6),(31.7,0.65),(31.9,0.4),(32.2,0.35),(32.5,0.3),(32.75,0.4)]

SOA_MEAS = [(1.03,3.07),(1.12,3.51),(1.21,3.73),(1.3,4.38),(1.37,4.81),(1.44,5.69),(1.48,7.43),(1.54,8.74),(1.62,11.9),(1.69,11.57),(1.75,9.17),(1.8,5.69),(1.84,4.16),(1.91,4.6),(1.96,5.69),(2.02,4.6),(2.11,4.81),(2.22,5.25),(2.34,5.69),(2.43,7.86),(2.51,10.37),(2.59,10.04),(2.67,9.39),(2.72,6.12),(2.79,3.94),(2.88,3.51),(2.96,3.4),(3.05,2.53),(3.19,2.09),(3.3,1.76),(3.39,1.33),(3.46,0.78),(3.55,1.55),(3.64,1.44),(3.73,1.66),(3.82,0.78),(3.92,1.55),(4.04,1.22),(4.16,1.55),(4.27,1.0),(4.36,0.89),(4.43,1.22),(4.8,None),
(5.12,1.87),(5.21,2.09),(5.33,2.64),(5.39,3.29),(5.48,3.4),(5.5,None),
(5.53,4.6),(5.57,5.69),(5.63,5.9),(5.71,6.67),(5.78,5.25),(5.82,3.29),(5.93,4.27),(6.05,4.27),(6.14,3.51),(6.23,2.2),(6.31,1.87),(6.38,2.85),(6.44,3.73),(7.0,None),
(8.72,2.2),(8.81,0.68),(8.94,0.78),(9.01,1.76),(9.07,1.33),(9.16,0.89),(9.3,0.78),(9.43,0.35),(9.52,0.89),(9.61,1.22),(9.7,1.11),(10.0,None),
(10.42,1.76),(10.54,2.85),(10.65,2.64),(10.74,1.76),(10.87,0.89),(10.95,0.68),(11.0,1.2),(11.5,None),
(12.89,0.68),(12.98,1.55),(13.09,2.42),(13.18,1.33),(13.3,1.11),(13.39,1.33),(13.45,0.89),(13.54,1.76),(13.61,2.64),(13.72,2.85),(13.79,1.33),(13.86,0.46),(13.99,0.89),(14.11,1.11),(14.22,1.76),(14.31,1.22),(14.42,1.76),(14.53,2.09),(14.58,None),
(14.61,2.75),(14.64,3.0),(14.9,None),
(15.36,3.51),(15.54,4.05),(15.6,None),
(15.66,6.12),(15.77,2.64),(15.86,2.53),(15.95,5.47),(16.02,6.12),(16.08,3.73),(16.15,5.69),(16.27,5.8),(16.35,3.73),(16.44,5.69),(16.5,6.78),(16.56,12.88),(16.65,10.7),(16.71,8.74),(16.77,6.34),(16.89,5.69),(16.98,4.27),(17.07,3.07),(17.16,3.73),(17.28,3.51),(17.37,6.56),(17.46,9.39),(17.56,10.59),(17.65,9.17),(17.74,4.38),(17.83,3.07),(17.94,1.98),(18.06,1.87),(18.19,1.76),(18.3,2.42),(18.39,3.51),(18.51,5.03),(18.64,5.36),(18.73,3.94),(18.82,2.64),(18.91,1.87),(19.02,2.09),(19.14,1.87),(19.26,1.98),(19.36,3.07),(19.47,5.25),(19.58,6.99),(19.68,6.56),(19.79,4.16),(19.88,4.38),(20.03,6.99),(20.08,5.03),(20.17,5.9),(20.28,2.42),(20.37,4.81),(20.44,6.12),(20.53,8.3),(20.64,12.0),(20.71,12.66),(20.8,6.12),(20.89,5.69),(20.98,4.38),(21.07,3.29),(21.18,4.38),(21.29,4.16),(21.38,5.9),(21.5,None),
(21.61,10.92),(21.7,12.22),(21.79,11.5),(21.86,7.86),(21.92,3.94),(22.01,3.73),(22.1,2.96),(22.19,4.16),(22.28,4.6),(22.37,6.78),(22.46,10.04),(22.53,14.4),(22.6,17.45),(22.69,17.67),(22.76,14.84),(22.82,10.04),(22.87,9.83),(22.95,None),
(23.0,4.38),(23.09,5.47),(23.15,5.9),(23.24,6.56),(23.32,7.86),(23.41,10.04),(23.47,13.2),(23.54,13.42),(23.6,16.8),(23.66,None),
(23.72,8.74),(23.79,9.28),(23.85,8.95),(23.9,6.78),(23.95,None),
(23.99,2.53),(24.08,3.29),(24.17,3.83),(24.28,3.94),(24.35,4.6),(24.39,5.36),(24.45,None),
(24.5,9.61),(24.57,8.95),(24.62,7.86),(24.71,8.08),(24.8,7.97),(24.84,4.6),(24.89,3.73),(24.98,3.29),(25.07,2.85),(25.16,3.07),(25.25,3.29),(25.34,3.51),(25.4,5.03),(25.47,7.86),(25.54,5.9),(25.61,6.12),(25.65,7.65),(25.74,6.99),(25.81,4.81),(25.88,3.73),(25.97,3.73),(26.06,3.51),(26.15,3.18),(26.24,2.85),(26.35,1.98),(26.44,2.85),(26.53,7.43),(26.59,7.86),(26.65,9.17),(26.71,9.06),(26.77,6.78),(26.87,4.6),(27.1,None),
(27.41,2.96),(27.49,3.29),(27.56,5.9),(27.63,8.3),(27.7,8.52),(27.76,6.56),(27.82,4.6),(27.9,4.49),(27.97,2.85),(28.08,2.2),(28.15,1.76),(28.24,1.33),(28.33,0.78),(28.42,1.33),(28.53,2.75),(28.65,None),
(28.8,3.73),(28.89,3.29),(28.98,2.64),(29.11,2.2),(29.2,2.09),(29.29,2.75),(29.38,2.64),(29.42,3.73),(29.51,3.94),(29.58,7.43),(29.65,8.52),(29.72,7.21),(29.78,5.25),(29.87,3.29),(29.96,3.51),(30.05,4.38),(30.12,5.69),(30.19,4.81),(30.24,3.51),(30.32,4.16),(30.41,7.86),(30.49,10.04),(30.55,10.92),(30.61,15.27),(30.68,12.88),(30.77,8.95),(30.86,4.81),(30.95,4.16),(31.04,4.6),(31.11,5.25),(31.22,5.47),(31.29,6.34),(31.36,7.21),(31.42,10.04),(31.49,9.83),(31.57,13.75),(31.66,16.8),(31.72,15.49),(31.78,10.04),(31.83,4.71),(31.9,4.81),(31.96,5.69),(32.03,3.94),(32.2,None),
(32.35,7.43),(32.43,8.52),(32.51,10.92),(32.59,11.13),(32.68,9.39),(32.75,6.99)]

PANELS = [
    # (cmaq data, meas data, meas colour, species name, y tick step, y range, minor step, y title)
    (SULF_CMAQ, SULF_MEAS, "#FF0000", "Sulfate", 5, [-0.25, 17.0], 1, "Sulfate (µg m<sup>-3</sup>)"),
    (NIT_CMAQ, NIT_MEAS, "#0000FF", "Nitrate", 5, [-0.08, 21.07], None, "Nitrate (µg m<sup>-3</sup>)"),
    (AMM_CMAQ, AMM_MEAS, "#FFA500", "Ammonium", 2, [-0.07, 10.0], None, "Ammonium\u00a0 (µg m<sup>-3</sup>)"),
    (SOA_CMAQ, SOA_MEAS, "#00CC00", "SOA", 5, [-0.07, 17.9], 1, "SOA\u00a0 (µg m<sup>-3</sup>)"),
]

BASE = pd.Timestamp("2010-05-14 00:00")
W, H = 1383, 1511
FONT = "Liberation Sans, Arial, Helvetica, sans-serif"
FS = 35
DAY = 86400000


def split(pairs):
    t = [BASE + pd.Timedelta(days=d) for d, _ in pairs]
    v = [val for _, val in pairs]
    return t, v


# pixel layout of the four panels (top, bottom) in the 1383x1511 page
PANEL_PX = [(8, 286), (362, 638), (733, 1009), (1103, 1378)]
LEGEND_ROWS = [(35, 75), (378, 418), (738, 778), (1112, 1152)]
LEGEND_X = 481
X_DOM = [155 / W, 1380 / W]

fig = go.Figure()
layout = dict(
    width=W, height=H,
    margin=dict(l=0, r=0, t=0, b=0, autoexpand=False),
    paper_bgcolor="white", plot_bgcolor="white",
    font=dict(family=FONT, size=FS, color="black"),
    showlegend=True,
)

leg_n = 0
for i, (cm, me, col, name, dt, yr, mstep, ytitle) in enumerate(PANELS, start=1):
    sfx = "" if i == 1 else str(i)
    t1, v1 = split(cm)
    t2, v2 = split(me)
    rows = LEGEND_ROWS[i - 1]
    for k, (tt, vv, c, nm, lw) in enumerate([
        (t1, v1, "black", f"CMAQ {name}", 5 if name == "SOA" else 6),
        (t2, v2, col, f"Measurement {name}", 5.5),
    ]):
        leg_n += 1
        lg = "legend" if leg_n == 1 else f"legend{leg_n}"
        fig.add_trace(go.Scatter(x=tt, y=vv, mode="lines", name=nm,
                                 line=dict(color=c, width=lw), connectgaps=False,
                                 xaxis=f"x{sfx}", yaxis=f"y{sfx}", legend=lg))
        layout[lg] = dict(x=LEGEND_X / W, y=1 - rows[k] / H, xanchor="left", yanchor="middle",
                          bgcolor="rgba(0,0,0,0)", borderwidth=0,
                          font=dict(family=FONT, size=FS, color="black"),
                          tracegroupgap=0, itemwidth=30)
    top, bot = PANEL_PX[i - 1]
    ydom = [1 - bot / H, 1 - top / H]
    last = i == 4
    xa = dict(
        type="date", domain=X_DOM, anchor=f"y{sfx}",
        range=[BASE - pd.Timedelta(hours=6.5), BASE + pd.Timedelta(days=32.75)],
        showline=True, linecolor="black", linewidth=2.5, mirror=(i == 1),
        showgrid=False, zeroline=False,
        ticks="outside", tickcolor="black", tickwidth=2.5,
        ticklen=30 if not last else 28,
        dtick=(10 * DAY if (last or i == 2) else 5 * DAY),
        tick0=("2010-05-21" if last else ("2010-05-14" if i == 2 else "2010-05-15")),
        showticklabels=last, tickformat="%Y-%m-%d",
        tickfont=dict(family=FONT, size=FS, color="black"),
        minor=dict(dtick=DAY, tick0="2010-05-14", ticks="outside", ticklen=14,
                   tickwidth=2.5, tickcolor="black", showgrid=False),
        automargin=False,
    )
    if last:
        xa["title"] = dict(text="Date and Time (PDT)", font=dict(family=FONT, size=FS, color="black"), standoff=14)
        xa["ticklabelstandoff"] = 6
    ya = dict(
        domain=ydom, anchor=f"x{sfx}", range=yr,
        showline=True, linecolor="black", linewidth=2.5, mirror=True,
        showgrid=False, zeroline=False,
        ticks="outside", tickcolor="black", tickwidth=2.5, ticklen=28,
        ticklabelstandoff=11,
        dtick=dt, tick0=0,
        tickfont=dict(family=FONT, size=FS, color="black"),
        title=dict(text=ytitle, font=dict(family=FONT, size=FS, color="black"), standoff=3),
        automargin=False,
    )
    if mstep:
        ya["minor"] = dict(dtick=mstep, tick0=0, ticks="outside", ticklen=14,
                           tickwidth=2.5, tickcolor="black", showgrid=False)
    layout[f"xaxis{sfx}"] = xa
    layout[f"yaxis{sfx}"] = ya

fig.update_layout(**layout)
fig.write_html("out.html", config={"displayModeBar": False},
               post_script="document.body.style.margin='0px';document.body.style.overflow='hidden';")
